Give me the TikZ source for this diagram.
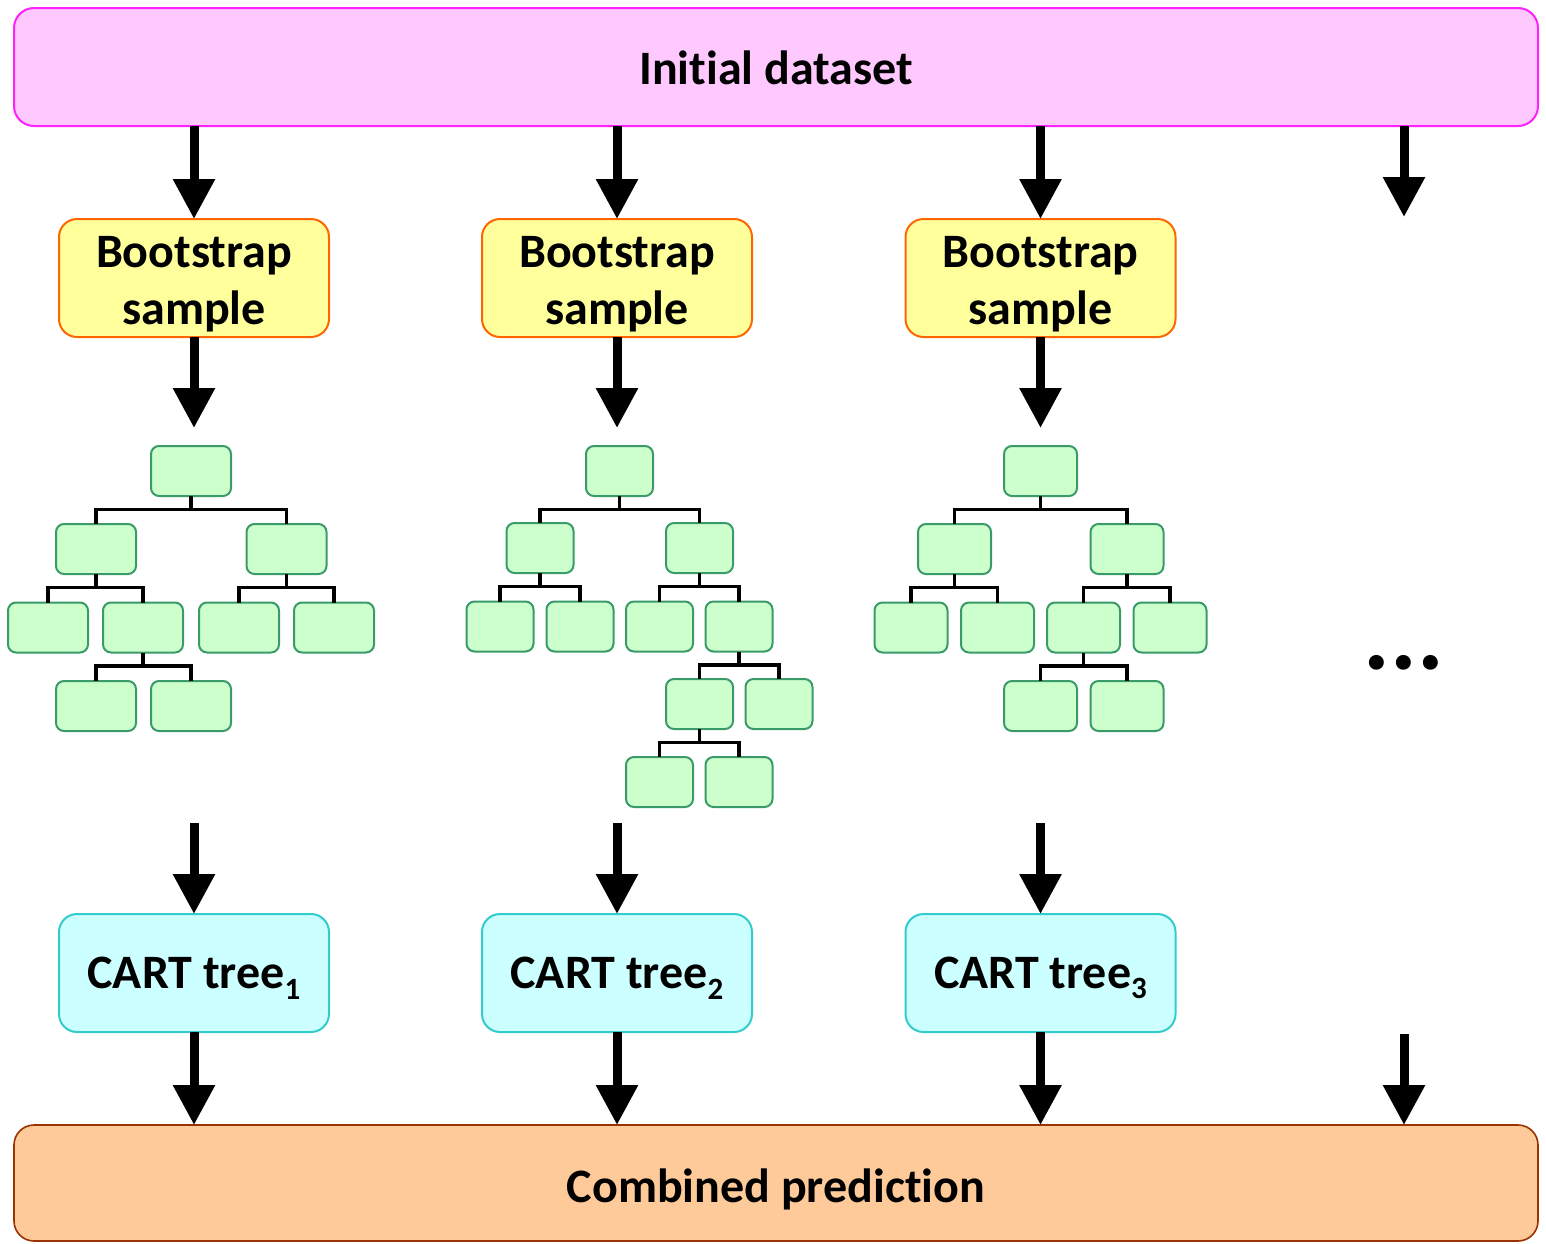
\documentclass[tikz,border=0pt]{standalone}
\usepackage{fontspec}
\setmainfont{Carlito}[Ligatures=CommonOff]
\usetikzlibrary{arrows.meta,calc}
\definecolor{topfill}{HTML}{FFC8FF}
\definecolor{topdraw}{HTML}{FF22FF}
\definecolor{bsfill}{HTML}{FFFF9C}
\definecolor{bsdraw}{HTML}{FF6600}
\definecolor{leaffill}{HTML}{CCFFCC}
\definecolor{leafdraw}{HTML}{3A9A6A}
\definecolor{cartfill}{HTML}{CCFFFF}
\definecolor{cartdraw}{HTML}{33CCCC}
\definecolor{combfill}{HTML}{FFCA99}
\definecolor{combdraw}{HTML}{993300}
\tikzset{
  bigtext/.style={font=\fontsize{48}{57}\selectfont\bfseries, text=black},
  widebox/.style={rectangle, rounded corners=20pt, line width=2pt, minimum width=1524pt, minimum height=118pt, inner sep=0pt, outer sep=0pt},
  bsbox/.style={rectangle, rounded corners=18pt, line width=2pt, draw=bsdraw, fill=bsfill, minimum width=270pt, minimum height=118pt, inner sep=0pt, outer sep=0pt},
  cartbox/.style={rectangle, rounded corners=18pt, line width=2pt, draw=cartdraw, fill=cartfill, minimum width=270pt, minimum height=118pt, inner sep=0pt, outer sep=0pt},
  leaf/.style={rectangle, rounded corners=8pt, line width=2pt, draw=leafdraw, fill=leaffill, minimum height=50pt, inner sep=0pt, outer sep=0pt},
  arr/.style={line width=9pt, -{Triangle[width=40pt,length=40pt]}},
  edge/.style={line width=3.6pt, line cap=butt, line join=miter}
}
\newcommand{\treelink}[4]{% parent, left child, right child, name of joint
  \path (#1.south) ++(0,13.5) coordinate (#4);
  \draw[edge] (#1.south) -- (#4);
  \draw[edge] (#2.north) |- (#4) -| (#3.north);
}
\newcommand{\mysub}[1]{\raisebox{-0.22em}{\fontsize{31}{31}\selectfont #1}}
\begin{document}
\begin{tikzpicture}[x=1pt,y=-1pt]
\useasboundingbox (0,0) rectangle (1546,1243);

% top and bottom boxes
\node[widebox, draw=topdraw, fill=topfill] (init) at (776,67) {};
\node[bigtext] (inittxt) at (776,68) {Initial dataset};
\node[widebox, draw=combdraw, fill=combfill, line width=1.6pt, minimum height=116pt] (comb) at (776,1183) {};
\node[bigtext] (combtxt) at (776,1189) {Combined prediction};

% bootstrap boxes
\node[bsbox] (bs1) at (194,278) {};
\node[bsbox] (bs2) at (617,278) {};
\node[bsbox] (bs3) at (1040.5,278) {};
\node[bigtext, align=center] (bs1t) at (194,284) {Bootstrap\\sample};
\node[bigtext, align=center] (bs2t) at (617,284) {Bootstrap\\sample};
\node[bigtext, align=center] (bs3t) at (1040.5,284) {Bootstrap\\sample};

% CART boxes
\node[cartbox] (cart1) at (194,973) {};
\node[cartbox] (cart2) at (617,973) {};
\node[cartbox] (cart3) at (1040.5,973) {};
\node[bigtext] (cart1t) at (194,978) {CART tree\mysub{1}};
\node[bigtext] (cart2t) at (617,978) {CART tree\mysub{2}};
\node[bigtext] (cart3t) at (1040.5,978) {CART tree\mysub{3}};

% coordinates for free arrow ends
\coordinate (t1top) at (194,428);
\coordinate (t2top) at (617,428);
\coordinate (t3top) at (1040.5,428);
\coordinate (t1bot) at (194,823);
\coordinate (t2bot) at (617,823);
\coordinate (t3bot) at (1040.5,823);
\coordinate (c4a) at (1404,217);
\coordinate (c4b) at (1404,1034);

% arrows
\draw[arr] (init.south -| bs1.north) -- (bs1.north);
\draw[arr] (init.south -| bs2.north) -- (bs2.north);
\draw[arr] (init.south -| bs3.north) -- (bs3.north);
\draw[arr] (init.south -| c4a) -- (c4a);
\draw[arr] (bs1.south) -- (t1top);
\draw[arr] (bs2.south) -- (t2top);
\draw[arr] (bs3.south) -- (t3top);
\draw[arr] (t1bot) -- (cart1.north);
\draw[arr] (t2bot) -- (cart2.north);
\draw[arr] (t3bot) -- (cart3.north);
\draw[arr] (cart1.south) -- (comb.north -| cart1.south);
\draw[arr] (cart2.south) -- (comb.north -| cart2.south);
\draw[arr] (cart3.south) -- (comb.north -| cart3.south);
\draw[arr] (c4b) -- (comb.north -| c4b);

% dots
\node[font=\fontsize{100}{100}\selectfont\bfseries] (dots) at (1404,663) {...};

% ---------- tree 1 ----------
\begin{scope}[every node/.style={leaf, minimum width=80pt}]
\node (a0) at (191,471) {};
\node (a1) at (96,549) {};
\node (a2) at (286.5,549) {};
\node (a3) at (48,627.5) {};
\node (a4) at (143,627.5) {};
\node (a5) at (239,627.5) {};
\node (a6) at (334,627.5) {};
\node (a7) at (96,706) {};
\node (a8) at (191,706) {};
\end{scope}
\treelink{a0}{a1}{a2}{ja0}
\treelink{a1}{a3}{a4}{ja1}
\treelink{a2}{a5}{a6}{ja2}
\treelink{a4}{a7}{a8}{ja4}

% ---------- tree 2 ----------
\begin{scope}[every node/.style={leaf, minimum width=67pt}]
\node (b0) at (619.5,471) {};
\node (b1) at (540,548) {};
\node (b2) at (699.5,548) {};
\node (b3) at (500,626.5) {};
\node (b4) at (580,626.5) {};
\node (b5) at (659.5,626.5) {};
\node (b6) at (739,626.5) {};
\node (b7) at (699.5,704) {};
\node (b8) at (779,704) {};
\node (b9) at (659.5,782) {};
\node (b10) at (739,782) {};
\end{scope}
\treelink{b0}{b1}{b2}{jb0}
\treelink{b1}{b3}{b4}{jb1}
\treelink{b2}{b5}{b6}{jb2}
\treelink{b6}{b7}{b8}{jb6}
\treelink{b7}{b9}{b10}{jb7}

% ---------- tree 3 ----------
\begin{scope}[every node/.style={leaf, minimum width=73pt}]
\node (c0) at (1040.5,471) {};
\node (c1) at (954.5,549) {};
\node (c2) at (1127,549) {};
\node (c3) at (911,627.5) {};
\node (c4) at (997.5,627.5) {};
\node (c5) at (1083.5,627.5) {};
\node (c6) at (1170,627.5) {};
\node (c7) at (1040.5,706) {};
\node (c8) at (1127,706) {};
\end{scope}
\treelink{c0}{c1}{c2}{jc0}
\treelink{c1}{c3}{c4}{jc1}
\treelink{c2}{c5}{c6}{jc2}
\treelink{c5}{c7}{c8}{jc5}
\end{tikzpicture}
\end{document}
